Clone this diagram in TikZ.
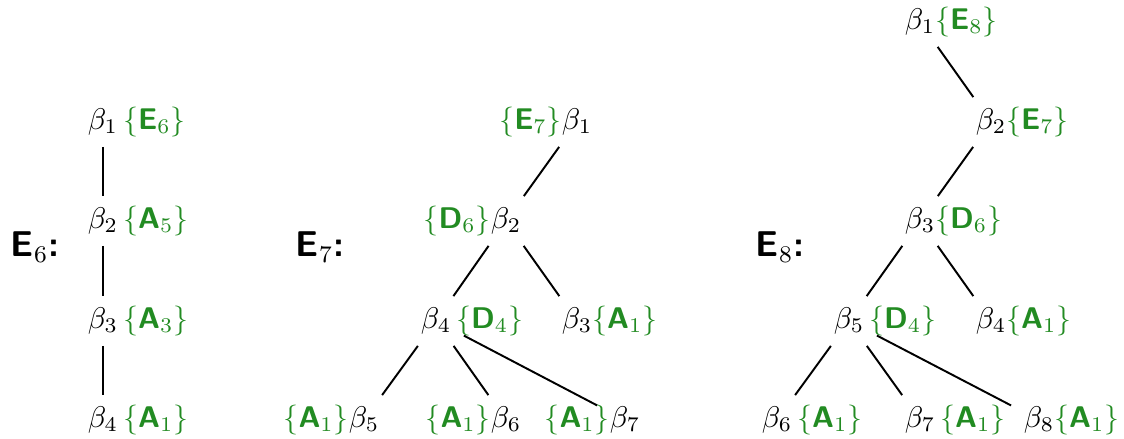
\documentclass[tikz,border=0pt]{standalone}
\usepackage{xcolor}
\definecolor{grn}{RGB}{34,139,34}
\newcommand{\subalg}[2]{\textcolor{grn}{$\{\textsf{\textbf{#1}}_{#2}\}$}}
\newcommand{\dynk}[1]{\large$\textsf{\textbf{E}}_{#1}$\textsf{\textbf{:}}}

\begin{document}
\begin{tikzpicture}[x=0.3344pt,y=-0.3344pt,line width=0.65pt,
root/.style={inner sep=0pt,minimum width=18pt,minimum height=16pt},
title/.style={inner sep=0pt,anchor=base west}]
\useasboundingbox (0,0) rectangle (1124,439);

% E6
\node[title] (t6) at (10,257) {\dynk{6}};
\node[root] (e6b1) at (103,122) {$\beta_1$\rlap{\,\subalg{E}{6}}};
\node[root] (e6b2) at (103,221) {$\beta_2$\rlap{\,\subalg{A}{5}}};
\node[root] (e6b3) at (103,321) {$\beta_3$\rlap{\,\subalg{A}{3}}};
\node[root] (e6b4) at (103,420) {$\beta_4$\rlap{\,\subalg{A}{1}}};
\draw (e6b1) -- (e6b2) -- (e6b3) -- (e6b4);

% E7
\node[title] (t7) at (295,257) {\dynk{7}};
\node[root] (e7b1) at (577,122) {\llap{\subalg{E}{7}}$\beta_1$};
\node[root] (e7b2) at (506,221) {\llap{\subalg{D}{6}}$\beta_2$};
\node[root] (e7b4) at (436,321) {$\beta_4$\rlap{\,\subalg{D}{4}}};
\node[root] (e7b3) at (577,321) {$\beta_3$\rlap{\subalg{A}{1}}};
\node[root] (e7b5) at (364,420) {\llap{\subalg{A}{1}}$\beta_5$};
\node[root] (e7b6) at (506,420) {\llap{\subalg{A}{1}}$\beta_6$};
\node[root] (e7b7) at (625,420) {\llap{\subalg{A}{1}}$\beta_7$};
\draw (e7b1) -- (e7b2);
\draw (e7b2) -- (e7b4);
\draw (e7b2) -- (e7b3);
\draw (e7b4) -- (e7b5);
\draw (e7b4) -- (e7b6);
\draw (e7b4) -- (e7b7);

% E8
\node[title] (t8) at (755,257) {\dynk{8}};
\node[root] (e8b1) at (920,22) {$\beta_1$\rlap{\subalg{E}{8}}};
\node[root] (e8b2) at (991,122) {$\beta_2$\rlap{\subalg{E}{7}}};
\node[root] (e8b3) at (920,221) {$\beta_3$\rlap{\subalg{D}{6}}};
\node[root] (e8b5) at (849,321) {$\beta_5$\rlap{\,\subalg{D}{4}}};
\node[root] (e8b4) at (991,321) {$\beta_4$\rlap{\subalg{A}{1}}};
\node[root] (e8b6) at (777,420) {$\beta_6$\rlap{\,\subalg{A}{1}}};
\node[root] (e8b7) at (920,420) {$\beta_7$\rlap{\,\subalg{A}{1}}};
\node[root] (e8b8) at (1039,420) {$\beta_8$\rlap{\subalg{A}{1}}};
\draw (e8b1) -- (e8b2);
\draw (e8b2) -- (e8b3);
\draw (e8b3) -- (e8b5);
\draw (e8b3) -- (e8b4);
\draw (e8b5) -- (e8b6);
\draw (e8b5) -- (e8b7);
\draw (e8b5) -- (e8b8);
\end{tikzpicture}
\end{document}
